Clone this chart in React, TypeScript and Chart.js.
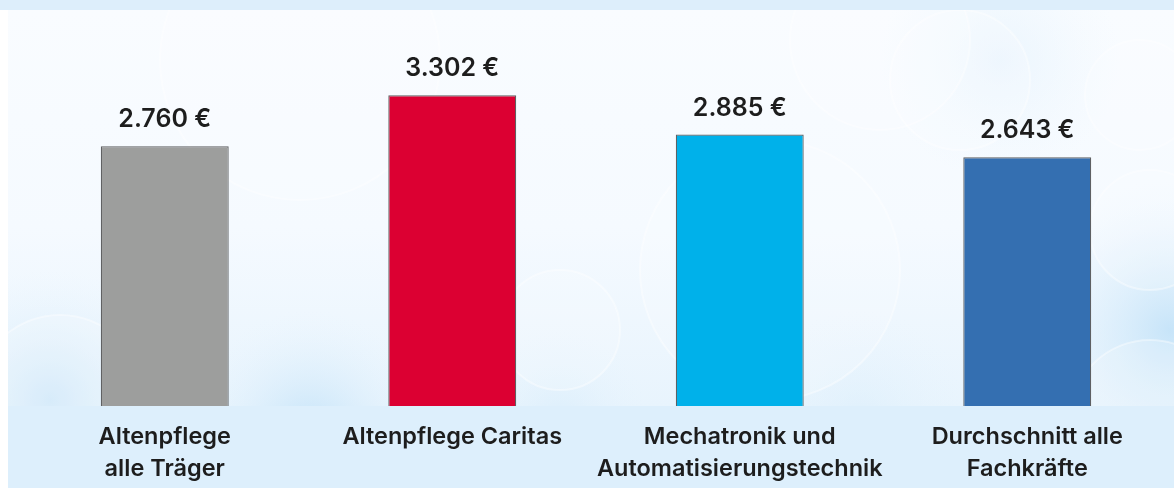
import React, { useEffect, useRef } from "react";
import { Chart, registerables } from "chart.js";

Chart.register(...registerables);

const categories: string[][] = [
  ["Altenpflege", "alle Träger"],
  ["Altenpflege Caritas"],
  ["Mechatronik und", "Automatisierungstechnik"],
  ["Durchschnitt alle", "Fachkräfte"],
];
const values: number[] = [2760, 3302, 2885, 2643];
const barColors: string[] = ["#9d9e9d", "#dc0032", "#00b1ea", "#346fb1"];
const yMin = 0;
const yMax = 3900;

const formatEuro = (v: number) => {
  const s = String(v);
  const withDots = s.replace(/\B(?=(\d{3})+(?!\d))/g, ".");
  return withDots + " €";
};

const W = 1174;
const H = 500;
const FONT = "Inter, 'Liberation Sans', Arial, sans-serif";

const backgroundPlugin = {
  id: "bgPlugin",
  beforeDraw(chart: any) {
    const ctx = chart.ctx as CanvasRenderingContext2D;
    const area = chart.chartArea;
    const bottom = area.bottom;
    ctx.save();
    ctx.fillStyle = "#ffffff";
    ctx.fillRect(0, 0, W, H);
    const g = ctx.createLinearGradient(0, 10, 0, bottom);
    g.addColorStop(0, "#f9fcff");
    g.addColorStop(0.55, "#f5faff");
    g.addColorStop(1, "#e8f4fd");
    ctx.fillStyle = g;
    ctx.fillRect(8, 10, W - 8, bottom - 10);
    const blobs: [number, number, number, string][] = [
      [50, 400, 130, "rgba(200,228,248,0.8)"],
      [310, 430, 120, "rgba(192,225,248,0.85)"],
      [560, 420, 90, "rgba(208,233,250,0.5)"],
      [1170, 330, 150, "rgba(192,225,248,0.85)"],
      [1000, 60, 120, "rgba(222,239,252,0.5)"],
      [860, 420, 110, "rgba(214,236,251,0.5)"],
    ];
    ctx.beginPath();
    ctx.rect(8, 10, W - 8, bottom - 10);
    ctx.clip();
    for (const [x, y, r, c] of blobs) {
      const rg = ctx.createRadialGradient(x, y, 0, x, y, r);
      rg.addColorStop(0, c);
      rg.addColorStop(1, "rgba(232,244,253,0)");
      ctx.fillStyle = rg;
      ctx.fillRect(x - r, y - r, 2 * r, 2 * r);
    }
    const circles: [number, number, number][] = [
      [300, 60, 140],
      [770, 270, 130],
      [880, 40, 90],
      [960, 80, 70],
      [1140, 95, 55],
      [1150, 230, 60],
      [60, 400, 85],
      [560, 330, 60],
      [1150, 420, 80],
    ];
    for (const [x, y, r] of circles) {
      ctx.beginPath();
      ctx.arc(x, y, r, 0, Math.PI * 2);
      ctx.fillStyle = "rgba(255,255,255,0.18)";
      ctx.fill();
      ctx.strokeStyle = "rgba(255,255,255,0.4)";
      ctx.lineWidth = 2;
      ctx.stroke();
    }
    ctx.restore();
    ctx.save();
    ctx.fillStyle = "#ddeefb";
    ctx.fillRect(0, 0, W, 10);
    ctx.fillStyle = "#ddeffc";
    ctx.fillRect(8, bottom, W - 8, H - bottom);
    ctx.restore();
  },
};

const valueLabelPlugin = {
  id: "valueLabels",
  afterDatasetsDraw(chart: any) {
    const ctx = chart.ctx as CanvasRenderingContext2D;
    const meta = chart.getDatasetMeta(0);
    ctx.save();
    ctx.fillStyle = "#1d1d1d";
    ctx.font = `600 25px ${FONT}`;
    ctx.textAlign = "center";
    ctx.textBaseline = "alphabetic";
    meta.data.forEach((bar: any, i: number) => {
      ctx.fillText(formatEuro(values[i]), bar.x, bar.y - 19);
    });
    ctx.restore();
  },
};

export default function App() {
  const ref = useRef<HTMLCanvasElement | null>(null);
  useEffect(() => {
    if (!ref.current) return;
    const chart = new Chart(ref.current, {
      type: "bar",
      data: {
        labels: categories,
        datasets: [
          {
            data: values,
            backgroundColor: barColors,
            borderColor: "#5f6062",
            borderWidth: 1.2,
            barPercentage: 0.445,
            categoryPercentage: 1,
          },
        ],
      },
      options: {
        responsive: false,
        animation: false,
        devicePixelRatio: 1,
        layout: { padding: { left: 21, right: 3, top: 39, bottom: 0 } },
        plugins: {
          legend: { display: false },
          tooltip: { enabled: false },
          title: { display: false },
        },
        scales: {
          x: {
            grid: { display: false, drawTicks: false },
            border: { display: false },
            ticks: {
              color: "#1d1d1d",
              padding: 15,
              maxRotation: 0,
              autoSkip: false,
              font: { family: FONT, size: 23.5, weight: "600", lineHeight: 32 / 23.5 },
            },
          },
          y: {
            display: false,
            min: yMin,
            max: yMax,
          },
        },
      },
      plugins: [backgroundPlugin, valueLabelPlugin],
    });
    return () => chart.destroy();
  }, []);
  return (
    <div style={{ position: "fixed", left: 0, top: 0, width: W, height: H, overflow: "hidden" }}>
      <canvas ref={ref} width={W} height={H} style={{ width: W, height: H, display: "block" }} />
    </div>
  );
}
